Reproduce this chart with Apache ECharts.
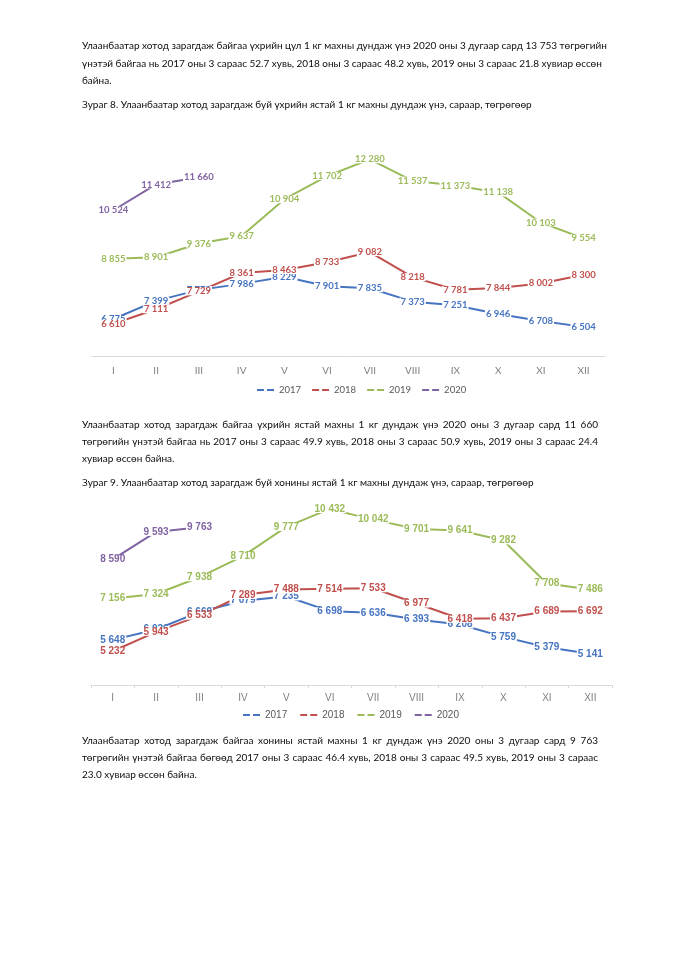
<!DOCTYPE html>
<html><head><meta charset="utf-8">
<script src="https://cdn.jsdelivr.net/npm/echarts@6/dist/echarts.min.js"></script>
<style>
html,body{margin:0;padding:0;background:#fff;}
#page{position:relative;width:679px;height:960px;overflow:hidden;}
#chart{position:absolute;left:0;top:0;width:679px;height:960px;}
.ln{position:absolute;left:82px;width:516px;font-family:Lato,"Noto Sans",sans-serif;font-size:10px;line-height:14px;color:#0d0d0d;white-space:nowrap;}
.j{text-align:justify;text-align-last:justify;}
</style></head>
<body><div id="page">
<div id="chart"></div>
<div class="ln j" style="top:38px">Улаанбаатар хотод зарагдаж байгаа үхрийн цул 1 кг махны дундаж үнэ 2020 оны 3 дугаар сард 13 753 төгрөгийн</div>
<div class="ln j" style="top:56px">үнэтэй байгаа нь 2017 оны 3 сараас 52.7 хувь, 2018 оны 3 сараас 48.2 хувь, 2019 оны 3 сараас 21.8 хувиар өссөн</div>
<div class="ln" style="top:73px">байна.</div>
<div class="ln" style="top:97px">Зураг 8. Улаанбаатар хотод зарагдаж буй үхрийн ястай 1 кг махны дундаж үнэ, сараар, төгрөгөөр</div>
<div class="ln j" style="top:417px">Улаанбаатар хотод зарагдаж байгаа үхрийн ястай махны 1 кг дундаж үнэ 2020 оны 3 дугаар сард 11 660</div>
<div class="ln j" style="top:434px">төгрөгийн үнэтэй байгаа нь 2017 оны 3 сараас 49.9 хувь, 2018 оны 3 сараас 50.9 хувь, 2019 оны 3 сараас 24.4</div>
<div class="ln" style="top:451px">хувиар өссөн байна.</div>
<div class="ln" style="top:475px">Зураг 9. Улаанбаатар хотод зарагдаж буй хонины ястай 1 кг махны дундаж үнэ, сараар, төгрөгөөр</div>
<div class="ln j" style="top:733px">Улаанбаатар хотод зарагдаж байгаа хонины ястай махны 1 кг дундаж үнэ 2020 оны 3 дугаар сард 9 763</div>
<div class="ln j" style="top:750px">төгрөгийн үнэтэй байгаа бөгөөд 2017 оны 3 сараас 46.4 хувь, 2018 оны 3 сараас 49.5 хувь, 2019 оны 3 сараас</div>
<div class="ln" style="top:767px">23.0 хувиар өссөн байна.</div>
</div>
<script>
const months = ['I','II','III','IV','V','VI','VII','VIII','IX','X','XI','XII'];
const years = ['2017','2018','2019','2020'];
const colors = ['#4674C1','#C0504D','#9BBB59','#8064A2'];
// Chart 8: beef with bone
const beef2017 = [6775, 7399, 7779, 7986, 8229, 7901, 7835, 7373, 7251, 6946, 6708, 6504];
const beef2018 = [6610, 7111, 7729, 8361, 8463, 8733, 9082, 8218, 7781, 7844, 8002, 8300];
const beef2019 = [8855, 8901, 9376, 9637, 10904, 11702, 12280, 11537, 11373, 11138, 10103, 9554];
const beef2020 = [10524, 11412, 11660];
// Chart 9: mutton with bone
const mutton2017 = [5648, 6026, 6669, 7079, 7235, 6698, 6636, 6393, 6208, 5759, 5379, 5141];
const mutton2018 = [5232, 5943, 6533, 7289, 7488, 7514, 7533, 6977, 6418, 6437, 6689, 6692];
const mutton2019 = [7156, 7324, 7938, 8710, 9777, 10432, 10042, 9701, 9641, 9282, 7708, 7486];
const mutton2020 = [8590, 9593, 9763];

const fmt = v => String(v).replace(/\B(?=(\d{3})+(?!\d))/g, ' ');
const chart = echarts.init(document.getElementById('chart'));
const icon = 'path://M0,0H7V2H0Z M10,0H17V2H10Z';

function mk(name, data, idx, ci, font, size, weight, lh) {
  return {
    type: 'line', name: name, data: data, xAxisIndex: idx, yAxisIndex: idx,
    symbol: 'circle', symbolSize: 0, animation: false,
    lineStyle: { color: colors[ci], width: 2 },
    itemStyle: { color: colors[ci] },
    label: { show: true, position: 'inside', formatter: p => fmt(p.value),
      color: colors[ci], fontFamily: font, fontSize: size, fontWeight: weight,
      lineHeight: lh, backgroundColor: '#fff', padding: [0, 1] }
  };
}
const f1 = 'Lato, "Noto Sans", sans-serif';
const f2 = '"Liberation Sans", Arial, sans-serif';
const s1 = [beef2017, beef2018, beef2019, beef2020];
const s2 = [mutton2017, mutton2018, mutton2019, mutton2020];
const series = [];
s1.forEach((d, i) => series.push(mk(years[i], d, 0, i, f1, 9.5, 'bold', 8)));
s2.forEach((d, i) => series.push(mk(years[i], d, 1, i, f2, 10, 'bold', 8)));

chart.setOption({
  animation: false,
  grid: [
    { left: 92, top: 138.4, width: 513, height: 217.6 },
    { left: 91, top: 493.4, width: 521, height: 191.6 }
  ],
  xAxis: [
    { type: 'category', gridIndex: 0, data: months, boundaryGap: true,
      axisLine: { lineStyle: { color: '#d9d9d9', width: 1 } }, axisTick: { show: false },
      axisLabel: { color: '#808080', fontFamily: f1, fontSize: 10, margin: 10 } },
    { type: 'category', gridIndex: 1, data: months, boundaryGap: true,
      axisLine: { lineStyle: { color: '#d9d9d9', width: 1 } },
      axisTick: { show: true, length: 3, lineStyle: { color: '#d9d9d9' } },
      axisLabel: { color: '#808080', fontFamily: f2, fontSize: 10, margin: 8 } }
  ],
  yAxis: [
    { type: 'value', gridIndex: 0, min: 5500, max: 13000, show: false, splitLine: { show: false } },
    { type: 'value', gridIndex: 1, min: 4000, max: 11000, show: false, splitLine: { show: false } }
  ],
  legend: [
    { data: years, left: 252, top: 380, icon: icon, itemWidth: 17, itemHeight: 2, itemGap: 11,
      textStyle: { color: '#595959', fontFamily: f1, fontSize: 9.5 }, selectedMode: false },
    { data: years, left: 238, top: 705, icon: icon, itemWidth: 17, itemHeight: 2, itemGap: 13,
      textStyle: { color: '#595959', fontFamily: f2, fontSize: 10 }, selectedMode: false }
  ],
  series: series
});
</script>
</body></html>
